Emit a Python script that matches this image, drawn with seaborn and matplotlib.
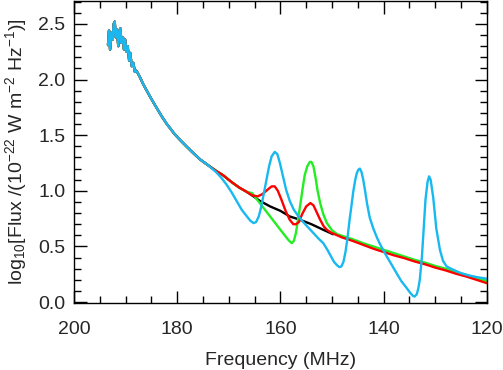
import numpy as np
import pandas as pd
import matplotlib
matplotlib.use("Agg")
import matplotlib.pyplot as plt
import seaborn as sns
from matplotlib.ticker import MultipleLocator

# shared noisy head of the spectrum (all curves coincide here)
head_freq = [193.4, 193.2, 193.0, 192.7, 192.5, 192.3, 192.1, 191.9, 191.7, 191.4,
             191.2, 191.0, 190.8, 190.5, 190.3, 190.1, 189.8, 189.6, 189.3, 189.1,
             188.8, 188.5, 188.2, 187.9, 187.2, 186.6, 185.3, 184.3, 183.0, 182.0,
             180.5, 179.5, 178.0, 176.9, 175.5, 174.0]
head_flux = [2.31, 2.44, 2.27, 2.42, 2.36, 2.50, 2.52, 2.38, 2.45, 2.30,
             2.44, 2.46, 2.33, 2.38, 2.27, 2.36, 2.25, 2.30, 2.17, 2.24,
             2.12, 2.15, 2.07, 2.08, 2.02, 1.96, 1.85, 1.77, 1.67, 1.60,
             1.51, 1.46, 1.39, 1.34, 1.28, 1.23]

# shared section before the red / green / black curves split
upper_freq = [172.5, 171.1, 169.5, 168.0, 166.5]
upper_flux = [1.18, 1.14, 1.08, 1.03, 0.99]

black_freq = [165.5, 164.0, 162.0, 160.0, 158.2, 156.2, 154.0, 151.7, 149.8]
black_flux = [0.96, 0.91, 0.86, 0.82, 0.77, 0.74, 0.70, 0.65, 0.61]

red_freq = [165.5, 164.4, 163.5, 162.5, 161.7, 161.1, 160.5, 159.8, 159.0, 158.2,
            157.5, 157.0, 156.4, 155.8, 155.0, 154.2, 153.6, 153.0, 152.3, 151.6,
            151.0, 150.2]
red_flux = [0.96, 0.95, 0.97, 1.01, 1.04, 1.04, 1.00, 0.92, 0.82, 0.74,
            0.70, 0.70, 0.72, 0.79, 0.86, 0.89, 0.87, 0.81, 0.74, 0.68,
            0.65, 0.625]

green_freq = [165.5, 165.0, 164.0, 163.0, 162.0, 161.0, 160.0, 159.0, 158.3, 157.8,
              157.4, 157.0, 156.6, 156.2, 155.7, 155.3, 154.8, 154.3, 154.0, 153.6,
              153.2, 152.8, 152.3, 151.7, 151.0, 150.0]
green_flux = [0.98, 0.95, 0.89, 0.83, 0.77, 0.71, 0.65, 0.59, 0.55, 0.53,
              0.55, 0.62, 0.74, 0.86, 1.02, 1.14, 1.22, 1.26, 1.26, 1.22,
              1.12, 1.00, 0.89, 0.79, 0.71, 0.645]

tail_freq = [149.0, 148.0, 146.0, 144.0, 142.0, 140.0, 138.0, 136.0, 134.0, 132.0,
             130.0, 128.0, 126.0, 124.0, 122.0, 120.0]
red_tail = [0.60, 0.58, 0.55, 0.515, 0.48, 0.45, 0.42, 0.395, 0.365, 0.34,
            0.31, 0.285, 0.255, 0.23, 0.20, 0.17]
green_tail = [0.61, 0.595, 0.565, 0.53, 0.50, 0.47, 0.44, 0.41, 0.38, 0.355,
              0.325, 0.30, 0.27, 0.245, 0.215, 0.19]

blue_freq = [172.5, 171.5, 170.5, 169.5, 168.5, 167.5, 166.5, 165.8, 165.2, 164.7,
             164.2, 163.7, 163.2, 162.7, 162.2, 161.7, 161.1, 160.6, 160.1, 159.5,
             158.9, 158.2, 157.4, 156.5, 155.6, 154.6, 153.6, 152.6, 151.7, 150.9,
             150.2, 149.6, 149.0, 148.6, 148.2, 147.8, 147.4, 147.0, 146.6, 146.2,
             145.9, 145.5, 145.2, 144.9, 144.6, 144.3, 143.96, 143.6, 143.2, 142.7,
             142.0, 141.3, 140.7, 140.0, 139.4, 138.5, 137.5, 136.6, 135.6, 134.8,
             134.3, 134.0, 133.6, 133.3, 133.0, 132.6, 132.3, 131.9, 131.5, 131.2,
             130.9, 130.4, 129.8, 129.1, 128.5, 127.8, 126.5, 125.0, 123.5, 122.0,
             120.0]
blue_flux = [1.17, 1.12, 1.06, 0.99, 0.91, 0.83, 0.77, 0.73, 0.71, 0.72,
             0.77, 0.86, 0.98, 1.10, 1.22, 1.31, 1.35, 1.33, 1.25, 1.13,
             1.01, 0.91, 0.83, 0.77, 0.72, 0.67, 0.62, 0.57, 0.53, 0.47,
             0.41, 0.36, 0.33, 0.315, 0.32, 0.36, 0.45, 0.58, 0.74, 0.88,
             0.99, 1.10, 1.16, 1.19, 1.20, 1.17, 1.10, 1.00, 0.88, 0.76,
             0.66, 0.58, 0.52, 0.46, 0.41, 0.34, 0.26, 0.19, 0.13, 0.08,
             0.055, 0.05, 0.07, 0.12, 0.20, 0.40, 0.62, 0.92, 1.08, 1.13,
             1.10, 0.94, 0.66, 0.47, 0.37, 0.32, 0.29, 0.26, 0.24, 0.225,
             0.21]

series = {
    "black": (head_freq + upper_freq + black_freq, head_flux + upper_flux + black_flux),
    "green": (head_freq + upper_freq + green_freq + tail_freq,
              head_flux + upper_flux + green_flux + green_tail),
    "red": (head_freq + upper_freq + red_freq + tail_freq,
            head_flux + upper_flux + red_flux + red_tail),
    "blue": (head_freq + blue_freq, head_flux + blue_flux),
}
colors = {"black": "#000000", "green": "#22ee22", "red": "#ff0000", "blue": "#18b8f0"}

sns.set_style("ticks")
plt.rcParams["font.family"] = ["Liberation Sans", "DejaVu Sans"]
plt.rcParams["mathtext.fontset"] = "custom"
plt.rcParams["mathtext.rm"] = "Liberation Sans"
plt.rcParams["mathtext.it"] = "Liberation Sans:italic"

fig = plt.figure(figsize=(5.03, 3.70), dpi=100)
ax = fig.add_axes([0.147, 0.182, 0.821, 0.815])

for name, (f, v) in series.items():
    d = pd.DataFrame({"freq": f, "flux": v})
    sns.lineplot(data=d, x="freq", y="flux", sort=False, estimator=None,
                 color=colors[name], lw=1.7, ax=ax)

ax.set_xlim(200, 120)
ax.set_ylim(-0.005, 2.705)
ax.xaxis.set_major_locator(MultipleLocator(20))
ax.xaxis.set_minor_locator(MultipleLocator(5))
ax.yaxis.set_major_locator(MultipleLocator(0.5))
ax.yaxis.set_minor_locator(MultipleLocator(0.1))
ax.yaxis.set_major_formatter(matplotlib.ticker.FormatStrFormatter("%.1f"))
ax.tick_params(which="both", direction="in", top=True, right=True, width=1, color="black")
ax.tick_params(which="major", length=9, labelsize=14)
ax.tick_params(axis="x", which="major", pad=13)
ax.tick_params(axis="y", which="major", pad=6)
ax.tick_params(which="minor", length=5)
for s in ax.spines.values():
    s.set_linewidth(1)
    s.set_color("black")

ax.set_xlabel("Frequency (MHz)", fontsize=14, labelpad=10)
ax.set_ylabel(r"log$_{10}$[Flux /(10$^{-22}$ W m$^{-2}$ Hz$^{-1}$)]", fontsize=14, labelpad=7)

fig.savefig("out.png", dpi=100)
